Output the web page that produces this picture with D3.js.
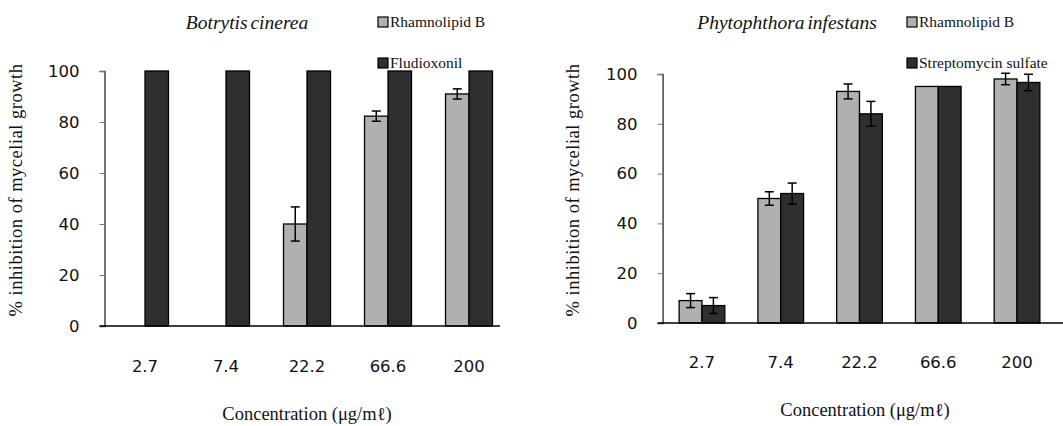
<!DOCTYPE html>
<meta charset="utf-8">
<body style="margin:0;background:#fff">
<script src="https://cdn.jsdelivr.net/npm/d3@7"></script>
<script>
var width = 1063,
    height = 426;

// concentrations (µg/ml)
var concentrations = ["2.7", "7.4", "22.2", "66.6", "200"];
var yTicks = [0, 20, 40, 60, 80, 100];

// Botrytis cinerea
var botrytisRhamno = [0, 0, 40, 82.3, 91];
var botrytisRhamnoErr = [0, 0, 6.7, 2, 2];
var botrytisFludioxonil = [100, 100, 100, 100, 100];
var botrytisFludioxonilErr = [0, 0, 0, 0, 0];

// Phytophthora infestans
var phytoRhamno = [9, 50, 93, 95, 98];
var phytoRhamnoErr = [2.8, 2.7, 3, 0, 2.3];
var phytoStrep = [7, 52, 84, 95, 96.6];
var phytoStrepErr = [3.2, 4.2, 5, 0, 3.3];

var lightFill = "#b0b0b0",
    darkFill = "#2f2f2f",
    serif = "'Liberation Serif', 'Times New Roman', serif";

var svg = d3.select("body").append("svg")
    .attr("width", width)
    .attr("height", height);

svg.append("rect")
    .attr("width", width)
    .attr("height", height)
    .attr("fill", "#fff");

function drawPanel(p) {
  var g = svg.append("g");

  var x = d3.scaleBand()
      .domain(concentrations)
      .range([p.left, p.right])
      .paddingInner(0.42)
      .paddingOuter(0.21);

  var y = d3.scaleLinear()
      .domain([0, 100])
      .range([p.bottom, p.top]);

  var bw = x.bandwidth() / 2;

  // y axis
  var yAxis = g.append("g")
      .attr("transform", "translate(" + p.left + ",0)")
      .call(d3.axisLeft(y).tickValues(yTicks).tickSize(5).tickPadding(20));
  yAxis.select(".domain").attr("stroke", "#444").attr("stroke-width", 1.5);
  yAxis.selectAll(".tick line").attr("stroke", "#777");
  yAxis.selectAll(".tick text")
      .attr("font-family", "DejaVu Sans")
      .attr("font-size", "16.5px")
      .attr("fill", "#111");

  // bars
  var series = [
    {vals: p.a, errs: p.aErr, fill: lightFill, off: 0},
    {vals: p.b, errs: p.bErr, fill: darkFill, off: bw}
  ];

  series.forEach(function(s) {
    var rows = concentrations.map(function(c, i) {
      return {c: c, v: s.vals[i], e: s.errs[i]};
    });

    g.selectAll(null)
      .data(rows.filter(function(d) { return d.v > 0; }))
      .enter().append("rect")
      .attr("x", function(d) { return x(d.c) + s.off; })
      .attr("y", function(d) { return y(d.v); })
      .attr("width", bw)
      .attr("height", function(d) { return y(0) - y(d.v); })
      .attr("fill", s.fill)
      .attr("stroke", "#000")
      .attr("stroke-width", 1.3);

    var eb = g.selectAll(null)
      .data(rows.filter(function(d) { return d.e > 0; }))
      .enter().append("g")
      .attr("stroke", "#000")
      .attr("stroke-width", 1.5);
    eb.append("line")
      .attr("x1", function(d) { return x(d.c) + s.off + bw / 2; })
      .attr("x2", function(d) { return x(d.c) + s.off + bw / 2; })
      .attr("y1", function(d) { return y(d.v + d.e); })
      .attr("y2", function(d) { return y(d.v - d.e); });
    [1, -1].forEach(function(sign) {
      eb.append("line")
        .attr("x1", function(d) { return x(d.c) + s.off + bw / 2 - 4.5; })
        .attr("x2", function(d) { return x(d.c) + s.off + bw / 2 + 4.5; })
        .attr("y1", function(d) { return y(d.v + sign * d.e); })
        .attr("y2", function(d) { return y(d.v + sign * d.e); });
    });
  });

  // x axis line
  g.append("line")
    .attr("x1", p.left - 5).attr("x2", p.axisEnd)
    .attr("y1", y(0)).attr("y2", y(0))
    .attr("stroke", "#000").attr("stroke-width", 1.5);

  // x tick labels
  g.selectAll(null)
    .data(concentrations)
    .enter().append("text")
    .attr("x", function(d) { return x(d) + x.bandwidth() / 2; })
    .attr("y", p.tickY)
    .attr("text-anchor", "middle")
    .attr("dominant-baseline", "middle")
    .attr("font-family", "DejaVu Sans")
    .attr("font-size", "16.5px")
    .attr("fill", "#111")
    .text(function(d) { return d; });

  // axis titles
  g.append("text")
    .attr("x", p.xLabelX).attr("y", p.xLabelY)
    .attr("text-anchor", "middle")
    .attr("dominant-baseline", "middle")
    .attr("font-family", serif)
    .attr("font-size", "18.5px")
    .attr("fill", "#111")
    .text("Concentration (\u03bcg/m\u2113)");

  g.append("text")
    .attr("transform", "translate(" + p.yLabelX + ",190)rotate(-90)")
    .attr("text-anchor", "middle")
    .attr("dominant-baseline", "middle")
    .attr("font-family", serif)
    .attr("font-size", "18.5px")
    .attr("letter-spacing", "0.5px")
    .attr("fill", "#111")
    .text("% inhibition of mycelial growth");

  // title
  g.append("text")
    .attr("x", p.titleX).attr("y", 25)
    .attr("text-anchor", "middle")
    .attr("dominant-baseline", "middle")
    .attr("font-family", serif)
    .attr("font-style", "italic")
    .attr("font-size", "19.5px")
    .attr("word-spacing", "-2px")
    .attr("fill", "#111")
    .text(p.title);

  // legend
  var leg = g.selectAll(null)
    .data(p.legend)
    .enter().append("g")
    .attr("transform", function(d, i) { return "translate(" + p.legendX + "," + (i === 0 ? 22 : 63) + ")"; });
  leg.append("rect")
    .attr("x", 0).attr("y", -5)
    .attr("width", 10).attr("height", 10)
    .attr("fill", function(d, i) { return i === 0 ? lightFill : darkFill; })
    .attr("stroke", "#000").attr("stroke-width", 1.2);
  leg.append("text")
    .attr("x", 12).attr("y", 1)
    .attr("dominant-baseline", "middle")
    .attr("font-family", serif)
    .attr("font-size", "15.5px")
    .attr("fill", "#111")
    .text(function(d) { return d; });
}

drawPanel({
  left: 104.5, right: 509.5, axisEnd: 500, top: 71, bottom: 326,
  a: botrytisRhamno, aErr: botrytisRhamnoErr,
  b: botrytisFludioxonil, bErr: botrytisFludioxonilErr,
  tickY: 367, xLabelX: 307, xLabelY: 416, yLabelX: 18,
  title: "Botrytis cinerea", titleX: 247,
  legend: ["Rhamnolipid B", "Fludioxonil"], legendX: 378
});

drawPanel({
  left: 662.6, right: 1056.4, axisEnd: 1063, top: 74, bottom: 323,
  a: phytoRhamno, aErr: phytoRhamnoErr,
  b: phytoStrep, bErr: phytoStrepErr,
  tickY: 363, xLabelX: 865, xLabelY: 412, yLabelX: 575,
  title: "Phytophthora infestans", titleX: 787,
  legend: ["Rhamnolipid B", "Streptomycin sulfate"], legendX: 907
});
</script>
</body>
</html>
